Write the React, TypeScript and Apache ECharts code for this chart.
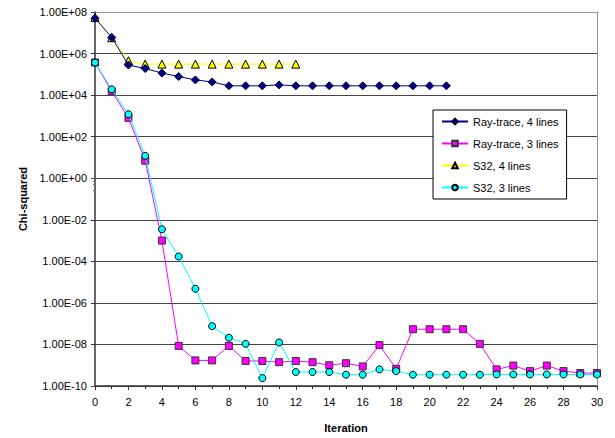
import React, { useEffect, useRef } from "react";
import * as echarts from "echarts";

const iterations = Array.from({ length: 31 }, (_, i) => i);

const rayTrace4 = [
  5e7, 6e6, 2.8e5, 1.9e5, 1.15e5, 7.8e4, 5.4e4, 4.3e4, 2.8e4, 2.8e4, 2.8e4,
  3.1e4, 2.8e4, 2.8e4, 2.8e4, 2.8e4, 2.8e4, 2.8e4, 2.8e4, 2.8e4, 2.8e4, 2.8e4,
];
const rayTrace3 = [
  3.7e5, 1.5e4, 8.0e2, 7.0, 1.0e-3, 8.5e-9, 1.7e-9, 1.7e-9, 8.5e-9, 1.6e-9,
  1.6e-9, 1.4e-9, 1.6e-9, 1.4e-9, 1.0e-9, 1.25e-9, 8.7e-10, 9.3e-9, 6.7e-10,
  5.4e-8, 5.4e-8, 5.4e-8, 5.4e-8, 1.07e-8, 6.3e-10, 9.6e-10, 5.2e-10, 9.6e-10,
  5.2e-10, 4.2e-10, 4.2e-10,
];
const s32_4 = [
  5.5e7, 5.8e6, 4.5e5, 3.1e5, 3.1e5, 3.1e5, 3.1e5, 3.1e5, 3.1e5, 3.1e5, 3.1e5,
  3.1e5, 3.1e5,
];
const s32_3 = [
  3.7e5, 1.9e4, 1.2e3, 12, 3.5e-3, 1.7e-4, 4.8e-6, 7.6e-8, 2.1e-8, 1.07e-8,
  2.4e-10, 1.25e-8, 4.7e-10, 4.7e-10, 4.7e-10, 3.5e-10, 3.5e-10, 6.3e-10,
  5.2e-10, 3.5e-10, 3.5e-10, 3.5e-10, 3.5e-10, 3.5e-10, 3.6e-10, 3.6e-10,
  3.6e-10, 3.6e-10, 3.6e-10, 3.6e-10, 3.6e-10,
];

const seriesNames = ["Ray-trace, 4 lines", "Ray-trace, 3 lines", "S32, 4 lines", "S32, 3 lines"];

const FONT = "Liberation Sans";

function fmtExp(v: number): string {
  const e = Math.round(Math.log10(v));
  const sign = e < 0 ? "-" : "+";
  const a = Math.abs(e);
  return "1.00E" + sign + (a < 10 ? "0" + a : String(a));
}

const toPairs = (arr: number[]) => arr.map((v, i) => [iterations[i], v]);

export default function App() {
  const ref = useRef<HTMLDivElement>(null);
  useEffect(() => {
    if (!ref.current) return;
    const chart = echarts.init(ref.current, null, { renderer: "svg" });
    const gridColors = ["#444", "#444", "#444", "#444", "#444", "#444", "#444", "#444", "#444", "#999"];
    chart.setOption({
      animation: false,
      backgroundColor: "#fff",
      textStyle: { fontFamily: FONT },
      grid: { left: 95, right: 18, top: 12, bottom: 50, containLabel: false },
      legend: {
        orient: "vertical",
        left: 433,
        top: 110,
        width: 139,
        padding: [5, 8, 5, 8],
        itemGap: 9,
        itemWidth: 26,
        itemHeight: 7,
        backgroundColor: "#fff",
        borderColor: "#000",
        borderWidth: 1,
        borderRadius: 0,
        textStyle: { fontFamily: FONT, fontSize: 11, color: "#000", lineHeight: 13 },
        data: seriesNames,
      },
      xAxis: {
        type: "value",
        min: 0,
        max: 30,
        interval: 2,
        name: "Iteration",
        nameLocation: "middle",
        nameGap: 36,
        nameTextStyle: { fontFamily: FONT, fontSize: 11, fontWeight: "bold", color: "#000" },
        axisLine: { lineStyle: { color: "#333", width: 1.5 } },
        axisTick: { length: 4, lineStyle: { color: "#333" } },
        minorTick: { show: true, splitNumber: 2, length: 3, lineStyle: { color: "#333" } },
        axisLabel: { fontFamily: FONT, fontSize: 11, color: "#000", margin: 10 },
        splitLine: { show: false },
      },
      yAxis: [
        {
          type: "log",
          logBase: 100,
          min: 1e-10,
          max: 1e8,
          name: "Chi-squared",
          nameLocation: "middle",
          nameGap: 66,
          nameRotate: 90,
          nameTextStyle: { fontFamily: FONT, fontSize: 11, fontWeight: "bold", color: "#000" },
          axisLine: { show: true, lineStyle: { color: "#333", width: 1.5 } },
          axisTick: { show: true, length: 4, lineStyle: { color: "#333" } },
          axisLabel: {
            fontFamily: FONT,
            fontSize: 11,
            color: "#000",
            margin: 8,
            formatter: (v: number) => fmtExp(v),
          },
          splitLine: { show: true, lineStyle: { color: gridColors, width: 1 } },
        },
        {
          type: "log",
          logBase: 10,
          min: 1e-10,
          max: 1e8,
          position: "left",
          axisLine: { show: false },
          axisTick: { show: true, length: 3, lineStyle: { color: "#555" } },
          minorTick: { show: true, splitNumber: 4, length: 2, lineStyle: { color: "#777" } },
          axisLabel: { show: false },
          splitLine: { show: false },
        },
        {
          type: "log",
          logBase: 100,
          min: 1e-10,
          max: 1e8,
          position: "right",
          axisLine: { show: true, lineStyle: { color: "#999", width: 1 } },
          axisTick: { show: false },
          axisLabel: { show: false },
          splitLine: { show: false },
        },
      ],
      series: [
        {
          name: seriesNames[0],
          type: "line",
          data: toPairs(rayTrace4),
          symbol: "diamond",
          symbolSize: 8,
          lineStyle: { color: "#000080", width: 1 },
          itemStyle: { color: "#000080", borderColor: "#000040", borderWidth: 1 },
          z: 4,
        },
        {
          name: seriesNames[1],
          type: "line",
          data: toPairs(rayTrace3),
          symbol: "rect",
          symbolSize: 7,
          lineStyle: { color: "#FF00FF", width: 1 },
          itemStyle: { color: "#FF00FF", borderColor: "#333", borderWidth: 1 },
          z: 3,
        },
        {
          name: seriesNames[2],
          type: "line",
          data: toPairs(s32_4),
          symbol: "triangle",
          symbolSize: 8,
          lineStyle: { color: "#FFFF00", width: 1 },
          itemStyle: { color: "#FFFF00", borderColor: "#000", borderWidth: 1 },
          z: 2,
        },
        {
          name: seriesNames[3],
          type: "line",
          data: toPairs(s32_3),
          symbol: "circle",
          symbolSize: 7,
          lineStyle: { color: "#00FFFF", width: 1 },
          itemStyle: { color: "#00FFFF", borderColor: "#000", borderWidth: 1 },
          z: 5,
        },
      ],
    });
    return () => chart.dispose();
  }, []);
  return (
    <div
      ref={ref}
      style={{ position: "absolute", left: 0, top: 0, width: 615, height: 438 }}
    />
  );
}
